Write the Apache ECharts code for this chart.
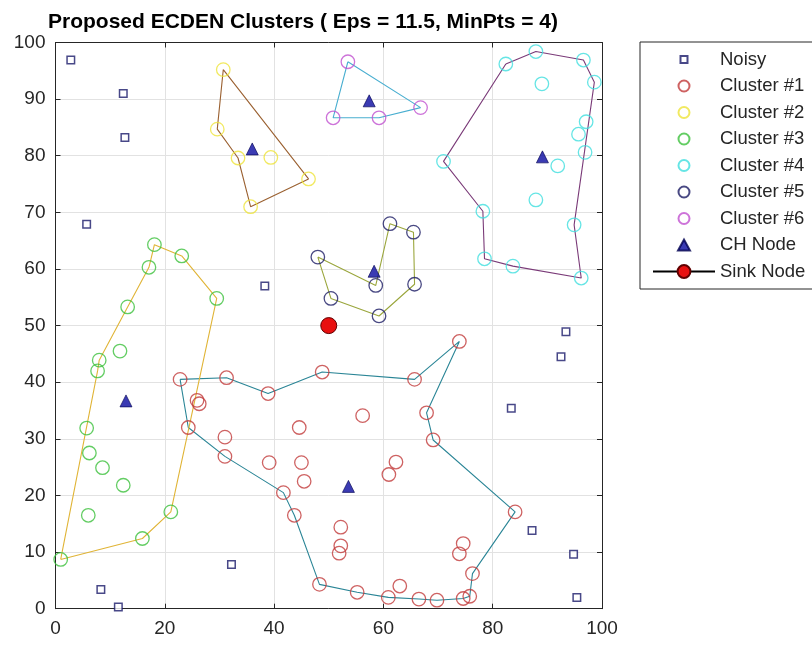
<!DOCTYPE html>
<html>
<head>
<meta charset="utf-8">
<script src="https://cdn.jsdelivr.net/npm/echarts@6/dist/echarts.min.js"></script>
<style>html,body{margin:0;padding:0;background:#fff;}#c{width:812px;height:645px;}</style>
</head>
<body>
<div id="c"></div>
<script>
const titleText = 'Proposed ECDEN Clusters ( Eps = 11.5, MinPts = 4)';
const xTicks = [0, 20, 40, 60, 80, 100];
const yTicks = [0, 10, 20, 30, 40, 50, 60, 70, 80, 90, 100];

const noisy = [[2.8,96.9],[12.4,91.0],[12.7,83.2],[5.7,67.9],[38.3,57.0],[8.3,3.4],[11.5,0.3],[32.2,7.8],[93.4,48.9],[92.5,44.5],[83.4,35.4],[87.2,13.8],[94.8,9.6],[95.4,2.0]];

const cluster1 = [[22.8,40.5],[31.3,40.8],[38.9,38.0],[25.9,36.8],[26.3,36.2],[48.8,41.8],[65.7,40.5],[73.9,47.2],[24.3,32.0],[31.0,30.3],[31.0,26.9],[39.1,25.8],[41.7,20.5],[43.7,16.5],[44.6,32.0],[45.0,25.8],[45.5,22.5],[48.3,4.3],[56.2,34.1],[67.9,34.6],[69.1,29.8],[62.3,25.9],[61.0,23.7],[84.1,17.1],[52.2,14.4],[52.2,11.1],[51.9,9.8],[74.6,11.5],[73.9,9.7],[76.3,6.2],[55.2,2.9],[63.0,4.0],[60.9,2.0],[66.5,1.7],[69.8,1.5],[74.6,1.8],[75.8,2.2]];
const hull1 = [[22.8,40.5],[31.3,40.8],[38.9,38.0],[48.8,41.8],[65.7,40.5],[73.9,47.2],[67.9,34.6],[69.1,29.8],[84.1,17.1],[76.3,6.2],[75.8,2.2],[74.6,1.8],[69.8,1.5],[66.5,1.7],[60.9,2.0],[55.2,2.9],[48.3,4.3],[43.7,16.5],[41.7,20.5],[31.0,26.9],[24.3,32.0],[22.8,40.5]];

const cluster2 = [[30.7,95.2],[29.6,84.7],[33.4,79.6],[39.4,79.7],[46.3,75.9],[35.7,71.0]];
const hull2 = [[30.7,95.2],[29.6,84.7],[33.4,79.6],[35.7,71.0],[46.3,75.9],[30.7,95.2]];

const cluster3 = [[18.1,64.3],[23.1,62.3],[17.1,60.3],[29.5,54.8],[13.2,53.3],[11.8,45.5],[8.0,43.9],[7.7,42.0],[5.7,31.9],[6.2,27.5],[8.6,24.9],[12.4,21.8],[6.0,16.5],[21.1,17.1],[15.9,12.4],[0.95,8.7]];
const hull3 = [[0.95,8.7],[7.7,42.0],[8.0,43.9],[13.2,53.3],[17.1,60.3],[18.1,64.3],[23.1,62.3],[29.5,54.8],[21.1,17.1],[15.9,12.4],[0.95,8.7]];

const cluster4 = [[82.4,96.2],[87.9,98.4],[96.6,96.9],[98.6,93.0],[89.0,92.7],[97.1,86.0],[95.7,83.8],[96.9,80.6],[91.9,78.2],[71.0,79.0],[87.9,72.2],[78.2,70.2],[94.9,67.8],[78.5,61.8],[83.7,60.5],[96.2,58.4]];
const hull4 = [[82.4,96.2],[87.9,98.4],[96.6,96.9],[98.6,93.0],[94.9,67.8],[96.2,58.4],[83.7,60.5],[78.5,61.8],[78.2,70.2],[71.0,79.0],[82.4,96.2]];

const cluster5 = [[48.0,62.1],[61.2,68.0],[65.5,66.5],[58.6,57.1],[65.7,57.3],[50.4,54.8],[59.2,51.7]];
const hull5 = [[48.0,62.1],[58.6,57.1],[61.2,68.0],[65.5,66.5],[65.7,57.3],[59.2,51.7],[50.4,54.8],[48.0,62.1]];

const cluster6 = [[53.5,96.6],[50.8,86.7],[59.2,86.7],[66.8,88.5]];
const hull6 = [[53.5,96.6],[66.8,88.5],[59.2,86.7],[50.8,86.7],[53.5,96.6]];

const chNodes = [[53.6,21.6],[36.0,81.2],[12.9,36.7],[89.1,79.8],[58.3,59.6],[57.4,89.7]];
const sinkNode = [[50,50]];

const clusterNames = ['Cluster #1','Cluster #2','Cluster #3','Cluster #4','Cluster #5','Cluster #6'];
const clusterData = [cluster1, cluster2, cluster3, cluster4, cluster5, cluster6];
const hullData = [hull1, hull2, hull3, hull4, hull5, hull6];
const clusterColors = ['#c23b3b','#eee43a','#3cc03c','#40dede','#1c1c64','#c050d0'];
const hullColors = ['#2a8596','#9a6030','#e0b436','#7a3a78','#9aa63c','#48aed0'];

const FONT = 'Liberation Sans, Arial, sans-serif';
const series = [];
hullData.forEach((h, i) => {
  series.push({
    name: 'hull' + (i+1), type: 'line', data: h, showSymbol: false, symbol: 'none',
    lineStyle: { color: hullColors[i], width: 1.1 }, silent: true, z: 2
  });
});
series.push({
  name: 'Noisy', type: 'scatter', data: noisy, symbol: 'rect', symbolSize: 7.5,
  itemStyle: { color: '#ffffff', borderColor: '#1a1a6a', borderWidth: 1.5 }, z: 3
});
clusterData.forEach((d, i) => {
  series.push({
    name: clusterNames[i], type: 'scatter', data: d, symbol: 'circle', symbolSize: 13.5,
    itemStyle: { color: 'rgba(255,255,255,0)', borderColor: clusterColors[i], borderWidth: 1.3 }, z: 3
  });
});
series.push({
  name: 'CH Node', type: 'scatter', data: chNodes, symbol: 'triangle', symbolSize: 12,
  itemStyle: { color: '#0a0aa0', borderColor: '#000050', borderWidth: 0.8 }, z: 4
});
series.push({
  name: 'Sink Node', type: 'line', data: sinkNode, symbol: 'circle', symbolSize: 16, showSymbol: true,
  lineStyle: { color: '#000000', width: 1.2 },
  itemStyle: { color: '#e81010', borderColor: '#600000', borderWidth: 1 }, z: 4
});

// legend icons sized inside a 62x16 box (the leading moves fix the box)
const ICON_BOX = 'path://M0,0M62,16';
const iconSquare = ICON_BOX + 'M27.5,4.5L34.5,4.5L34.5,11.5L27.5,11.5Z';
const iconCircle = ICON_BOX + 'M25.5,8A5.5,5.5 0 1,0 36.5,8A5.5,5.5 0 1,0 25.5,8Z';
const iconTriangle = ICON_BOX + 'M25,13.5L31,2.5L37,13.5Z';
const legendData = [{ name: 'Noisy', icon: iconSquare }]
  .concat(clusterNames.map(n => ({ name: n, icon: iconCircle })))
  .concat([{ name: 'CH Node', icon: iconTriangle }, { name: 'Sink Node' }]);

const chart = echarts.init(document.getElementById('c'), null, { renderer: 'canvas' });
chart.setOption({
  animation: false,
  backgroundColor: '#ffffff',
  title: {
    text: titleText, left: 43, top: 7,
    textStyle: { fontFamily: FONT, fontSize: 21, fontWeight: 'bold', color: '#000' }
  },
  legend: {
    data: legendData, orient: 'vertical', left: 640, top: 42,
    padding: [8, 24, 8, 12],
    itemWidth: 62, itemHeight: 16, itemGap: 7.5,
    borderColor: '#262626', borderWidth: 1, backgroundColor: '#fff',
    textStyle: { fontFamily: FONT, fontSize: 18.5, color: '#262626', lineHeight: 16 },
    selectedMode: false
  },
  grid: { left: 55.5, right: 210, top: 42.5, bottom: 36.3, containLabel: false },
  xAxis: [{
    type: 'value', min: 0, max: 100, interval: 20, position: 'bottom',
    axisLine: { show: true, lineStyle: { color: '#262626', width: 1 } },
    axisTick: { show: true, inside: true, length: 5, lineStyle: { color: '#262626' } },
    axisLabel: { fontFamily: FONT, fontSize: 19, color: '#262626', margin: 11 },
    splitLine: { show: true, lineStyle: { color: '#e2e2e2', width: 1 } }
  }, {
    type: 'value', min: 0, max: 100, interval: 20, position: 'top',
    axisLine: { show: true, onZero: false, lineStyle: { color: '#262626', width: 1 } },
    axisTick: { show: true, inside: true, length: 5, lineStyle: { color: '#262626' } },
    axisLabel: { show: false }, splitLine: { show: false }
  }],
  yAxis: [{
    type: 'value', min: 0, max: 100, interval: 10, position: 'left',
    axisLine: { show: true, lineStyle: { color: '#262626', width: 1 } },
    axisTick: { show: true, inside: true, length: 5, lineStyle: { color: '#262626' } },
    axisLabel: { fontFamily: FONT, fontSize: 19, color: '#262626', margin: 10 },
    splitLine: { show: true, lineStyle: { color: '#e2e2e2', width: 1 } }
  }, {
    type: 'value', min: 0, max: 100, interval: 10, position: 'right',
    axisLine: { show: true, onZero: false, lineStyle: { color: '#262626', width: 1 } },
    axisTick: { show: true, inside: true, length: 5, lineStyle: { color: '#262626' } },
    axisLabel: { show: false }, splitLine: { show: false }
  }],
  series: series
});
</script>
</body>
</html>
